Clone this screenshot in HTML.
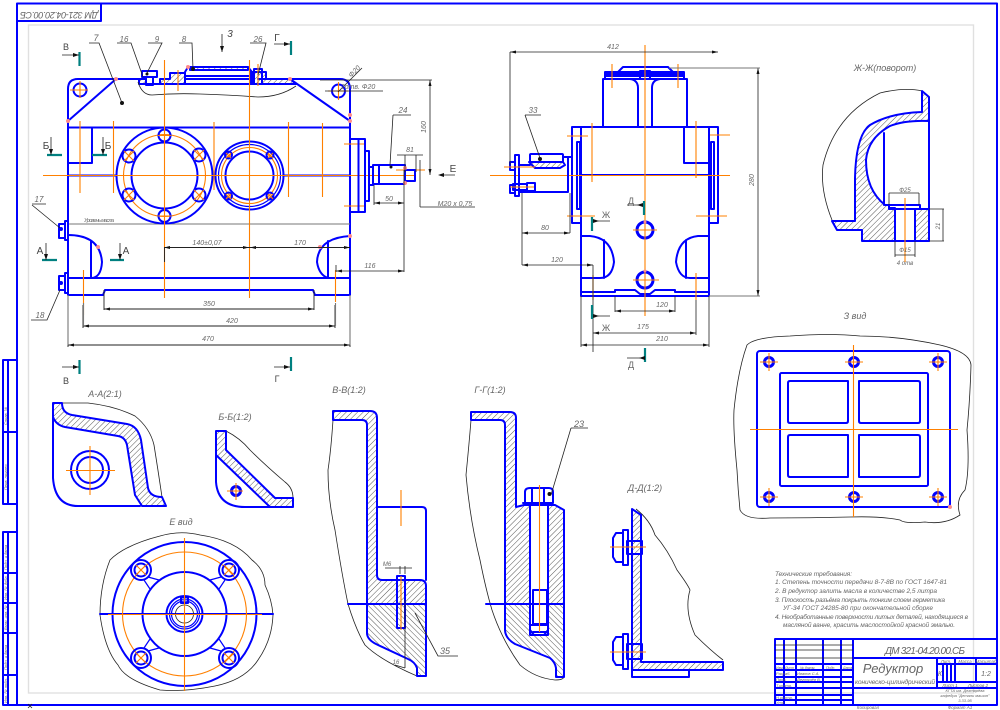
<!DOCTYPE html>
<html lang="ru"><head><meta charset="utf-8"><title>Редуктор</title>
<style>
html,body{margin:0;padding:0;background:#fff;width:1000px;height:710px;overflow:hidden}
svg{display:block}
text{font-family:"Liberation Sans",sans-serif;font-style:italic;fill:#666;font-size:8px}
.b{fill:none;stroke:#0000ff;stroke-width:2;stroke-linejoin:round;stroke-linecap:round}
.bt{fill:none;stroke:#0000ff;stroke-width:1.2}
.bk{fill:none;stroke:#0000ff;stroke-width:3}
.o{fill:none;stroke:#ff8000;stroke-width:1.1}
.k{fill:none;stroke:#222;stroke-width:.8}
.g{fill:none;stroke:#777;stroke-width:1.1}
.t{stroke:#008080;stroke-width:2.2;fill:none}
.h{fill:url(#hatch);stroke:#0000ff;stroke-width:2;stroke-linejoin:round}
.a{fill:#111}
.p{fill:#ff8c8c}
.c{text-anchor:middle}
</style></head><body>
<svg xmlns="http://www.w3.org/2000/svg" width="1000" height="710" viewBox="0 0 1000 710">
<defs>
<pattern id="hatch" patternUnits="userSpaceOnUse" width="4" height="4" patternTransform="rotate(45)"><rect width="4" height="4" fill="#fff"/><line x1="0" y1="0" x2="0" y2="4" stroke="#444" stroke-width=".9"/></pattern>
<pattern id="hatch2" patternUnits="userSpaceOnUse" width="4" height="4" patternTransform="rotate(-45)"><rect width="4" height="4" fill="#fff"/><line x1="0" y1="0" x2="0" y2="4" stroke="#444" stroke-width=".9"/></pattern>
</defs>
<rect width="1000" height="710" fill="#fff"/>

<!-- frames -->
<rect x="28.5" y="25" width="945" height="668" fill="none" stroke="#e0e0e0" stroke-width="1.4"/>
<path class="b" d="M17 3.5H997V705H17Z"/>
<path class="b" d="M17 21H101V3.5"/>
<text transform="translate(59,12) rotate(180)" class="c" style="font-size:9px" textLength="78">ДМ 321-04.20.00.СБ</text>
<path class="b" d="M17 360H3V504H17M8 360V504M3 432H17M17 532H3V705H17M8 532V705M3 573H17M3 603H17M3 633H17M3 675H17"/>
<g><text transform="translate(7,490) rotate(-90)" style="font-size:4px">Перв. примен.</text><text transform="translate(7,425) rotate(-90)" style="font-size:4px">Справ. №</text><text transform="translate(7,570) rotate(-90)" style="font-size:4px">Подп. и дата</text><text transform="translate(7,600) rotate(-90)" style="font-size:4px">Инв. № дубл.</text><text transform="translate(7,630) rotate(-90)" style="font-size:4px">Взам. инв. №</text><text transform="translate(7,670) rotate(-90)" style="font-size:4px">Подп. и дата</text><text transform="translate(7,703) rotate(-90)" style="font-size:4px">Инв. № подл.</text></g>

<!-- ===== MAIN VIEW ===== -->
<g>
<path class="b" d="M140 79H78Q68 79 68 89V295H103L105 290H313L315 295H350V89Q350 79 340 79H290"/>
<path class="b" d="M68 121L116 79M290 79L350 121M68 127.5H350M68 175.5H116M283 175.5H350M68 127.5V163H92V127.5"/>
<path class="g" d="M68 224H350" stroke-width="1.4"/>
<path class="b" d="M68 278H350"/>
<!-- top cover -->
<path class="h" d="M139 79H146V84H139Z"/>
<path class="h" d="M160 79H170V73H185V84H160Z"/>
<path class="h" d="M258 79H266V72H250V84H296L290 79Z"/>
<path class="b" d="M140 84H292M185 76H250M185 79H250M185 72L188 67H248L252 72V84M185 72V84"/>
<path class="h" d="M190 67H248V70H190Z"/>
<path class="b" d="M142 71H157V77H142Z" stroke-width="2.4"/><path class="b" d="M146 77H153V85H146Z"/>
<path class="b" d="M254 69H262V84H254Z" stroke-width="2.2"/>
<path class="k" d="M138 82Q142 95 152 95Q175 93 200 94Q230 95 258 97Q280 97 296 86" stroke-width=".9"/>
<!-- holes -->
<circle class="b" cx="80" cy="90" r="6.5"/><circle class="b" cx="338.5" cy="91" r="6.5"/>
<path class="o" d="M70 90H88M80 81V98M328 91H348M338.5 82V100"/>
<!-- left bosses -->
<path class="b" d="M59 224H65V238H59ZM65 221H68V240H65Z"/><path class="b" d="M59 276H65V290H59ZM65 273H68V293H65Z"/>
<circle cx="61" cy="229" r="2" fill="#0000ff"/><circle cx="61" cy="283" r="2" fill="#0000ff"/>
<!-- pockets -->
<path class="b" d="M68 235Q100 235 102 262Q101 278 91 278M91 241V278"/>
<path class="b" d="M350 236Q318 238 317 262Q319 275 328 278M328 241V278"/>
<!-- big circles -->
<circle class="b" cx="164.5" cy="175.5" r="48" fill="#fff"/><circle class="b" cx="164.5" cy="175.5" r="33"/><circle class="o" cx="164.5" cy="175.5" r="41"/>
<circle class="b" cx="249.5" cy="175.5" r="34" fill="#fff"/><circle class="bt" cx="249.5" cy="175.5" r="31"/><circle class="b" cx="249.5" cy="175.5" r="24"/><circle class="o" cx="249.5" cy="175.5" r="28"/>
<g class="b" fill="#fff"><circle cx="164.5" cy="135.5" r="6"/><circle cx="164.5" cy="216" r="6"/><circle cx="129" cy="156" r="6.5"/><circle cx="199" cy="155" r="6.5"/><circle cx="129" cy="195" r="6.5"/><circle cx="199" cy="195" r="6.5"/>
<circle cx="228.5" cy="155" r="3.5"/><circle cx="270" cy="155" r="3.5"/><circle cx="228.5" cy="196" r="3.5"/><circle cx="270" cy="196" r="3.5"/></g>
<path class="o" d="M124 151L134 161M134 151L124 161M194 150L204 160M204 150L194 160M124 190L134 200M134 190L124 200M194 190L204 200M204 190L194 200M226 153L231 158M231 153L226 158M268 153L273 158M273 153L268 158M226 194L231 199M231 194L226 199M268 194L273 199M273 194L268 199M158 135.5H171M158 216H171"/>
<!-- center lines -->
<path class="o" d="M43 175.5H415M164.5 60V298M249.5 60V298M80 121V193M113.5 121V193M214 122V190M288.5 122V197M322.5 123V197M83.5 270V315M335.5 270V302M178 70V91M258 64V86M344 144H365M344 206H365M396 170H425"/>
<!-- right shaft -->
<path class="b" d="M350 139H365V212H350M358.5 139V212M365 151H369V201H365M369 167H373V185H369M373 165H405V184H373ZM405 170H415V181H405ZM379 165V184"/>
<circle class="p" cx="350" cy="115" r="2"/><circle class="p" cx="350" cy="121" r="2"/><circle class="p" cx="116" cy="79" r="2"/><circle class="p" cx="290" cy="79" r="2"/><circle class="p" cx="68" cy="121" r="2"/><circle class="p" cx="350" cy="236" r="2"/><circle class="p" cx="98" cy="247" r="2"/><circle class="p" cx="320" cy="247" r="2"/><circle class="p" cx="405" cy="168" r="2"/><circle class="p" cx="405" cy="183" r="2"/><circle class="p" cx="188" cy="67" r="2"/>
<!-- leaders + dims -->
<g class="k">
<path d="M89 43H99L122 103M117 43H131L143 77M148 43H162L146 75M179 43H192L193 69M250 43H266L258 75M362 68L338 92M325 91H383"/>
<path d="M320 80H432M430 80V175M32 204H46M32 205L60 228M31 320H47L60 290M393 115H411M393 115L390 165"/>
<path d="M397 155H423M405 155V172M416 155V172M374 185V205M374 203H404M404 170V272M420 207H475M420 207V160M336 271H404M336 265V272"/>
<path d="M164.5 247.5H249.5M249.5 247.5H350M164.5 247V262M104 290V310M314 290V310M104 309H314M83 305V328M335 305V328M83 326H335M68 295V347M350 295V347M68 345H350" stroke-width=".9"/>
</g>
<path class="g" d="M68 295V345M350 295V345M83.5 303V326M335.5 303V326"/>
<g class="a"><circle cx="122" cy="103" r="2"/><circle cx="193" cy="69" r="2"/><circle cx="147" cy="74" r="1.5"/><circle cx="391" cy="167" r="1.5"/>
<path d="M164 247.5l6-1.5v3zM249 247.5l-6-1.5v3zM250 247.5l6-1.5v3zM350 247.5l-6-1.5v3zM336 271l6-1.5v3zM404 271l-6-1.5v3zM374 203l6-1.5v3zM404 203l-6-1.5v3zM104 309l6-1.5v3zM314 309l-6-1.5v3zM83 326l6-1.5v3zM335 326l-6-1.5v3zM68 345l6-1.5v3zM350 345l-6-1.5v3zM430 80l-1.5 6h3zM430 175l-1.5-6h3z"/></g>
<g>
<text x="96" y="41" class="c" style="font-size:9px">7</text><text x="124" y="42" class="c" style="font-size:8px">16</text><text x="157" y="42" class="c" style="font-size:8px">9</text><text x="184" y="42" class="c" style="font-size:8px">8</text><text x="258" y="42" class="c" style="font-size:8px">26</text>
<text x="39" y="202" class="c" style="font-size:8px">17</text><text x="40" y="318" class="c" style="font-size:8px">18</text><text x="403" y="113" class="c" style="font-size:8px">24</text>
<text transform="translate(356,73) rotate(-45)" class="c" style="font-size:7px">Ф20</text><text x="358" y="89" class="c" style="font-size:7px">2отв. Ф20</text>
<text transform="translate(426,127) rotate(-90)" class="c" style="font-size:7px">160</text><text x="410" y="152" class="c" style="font-size:7px">81</text><text x="389" y="201" class="c" style="font-size:7px">50</text><text x="455" y="206" class="c" style="font-size:7px">М20 х 0,75</text><text x="370" y="268" class="c" style="font-size:7px">116</text>
<text x="207" y="245" class="c" style="font-size:7px">140±0,07</text><text x="300" y="245" class="c" style="font-size:7px">170</text><text x="209" y="306" class="c" style="font-size:7px">350</text><text x="232" y="323" class="c" style="font-size:7px">420</text><text x="208" y="341" class="c" style="font-size:7px">470</text>
<text x="84" y="222" style="font-size:5.5px" textLength="30">Уровень масла</text>
</g>
<!-- section marks -->
<path class="t" d="M79.5 52V66M291 41V55M79.5 360V374M291 357V371M47 155H62M92 155H107M42 260H57M110 260H124"/>
<path class="k" d="M62 55H79M274 44H290M222 34V52M51 137V155M103 137V155M46 243V260M120 243V260M440 175H455M274 367H290M62 367H79"/>
<g class="a"><path d="M73 53l6 2-6 2zM284 42l6 2-6 2zM220 46l2 6 2-6zM49 149l2 6 2-6zM101 149l2 6 2-6zM44 254l2 6 2-6zM118 254l2 6 2-6zM444 173l-6 2 6 2zM284 365l6 2-6 2zM73 365l6 2-6 2z"/></g>
<g><text x="66" y="50" class="c" style="font-size:9px;font-style:normal;fill:#444">В</text><text x="277" y="41" class="c" style="font-size:10px;font-style:normal;fill:#444">Г</text><text x="230" y="37" class="c" style="font-size:10px;fill:#444">3</text><text x="46" y="149" class="c" style="font-size:10px;font-style:normal;fill:#444">Б</text><text x="108" y="149" class="c" style="font-size:10px;font-style:normal;fill:#444">Б</text><text x="40" y="254" class="c" style="font-size:10px;font-style:normal;fill:#444">А</text><text x="126" y="254" class="c" style="font-size:10px;font-style:normal;fill:#444">А</text><text x="453" y="172" class="c" style="font-size:10px;font-style:normal;fill:#444">Е</text><text x="66" y="384" class="c" style="font-size:9px;font-style:normal;fill:#444">В</text><text x="277" y="382" class="c" style="font-size:9px;font-style:normal;fill:#444">Г</text></g>
</g>

<!-- ===== SIDE VIEW ===== -->
<g>
<path class="b" d="M572 127H718V223H709V296H581V223H572Z"/>
<path class="b" d="M581 127V223M709 127V223M580 175H709M684 127V163H709"/>
<rect x="577" y="142" width="3" height="67" class="b"/><rect x="711" y="142" width="3" height="67" class="b"/>
<path class="b" d="M603 127V79H687V127M605 72H684V79H605Z"/>
<path d="M606 73H683V77H606Z" fill="#0000ff"/>
<path class="b" d="M618 72L623 67H668L673 72M638 127V88Q638 80 630 79M652 127V88Q652 80 660 79"/>
<rect x="640" y="71" width="10" height="8" class="b" fill="#fff"/>
<path class="b" d="M581 236H590Q612 238 614 262Q612 278 600 278H581M604 240V278M709 236H698Q678 238 676 262Q679 278 690 278H709M686 240V278"/>
<path class="b" d="M581 292H615V290H635L640 294H650L655 290H675V292H709"/>
<circle cx="645" cy="230" r="8" class="bk"/><circle cx="645" cy="280" r="8" class="bk"/>
<path class="o" d="M490 175.5H730M645 45V316M612 88V64M678 88V64M592 123V182M696 121V178M567 136H588M567 216H595M710 135H730M696 216H727M633 230H657M633 280H659M593 275V300M696 273V300"/>
<circle class="p" cx="645" cy="222" r="1.5"/><circle class="p" cx="645" cy="271" r="1.5"/>
<!-- left shaft -->
<path class="h" d="M529 162H563L565 165L560 168H535Z"/>
<rect x="530" y="154" width="33" height="8" class="b" rx="1"/>
<path class="b" d="M515 155H519V196H515ZM510 162H515V170H510ZM510 185H515V193H510ZM519 192H568V157H572M568 157H563M519 165H530"/>
<rect x="513" y="184" width="14" height="6" class="b" fill="#fff"/><path class="b" d="M527 183H535V191H527Z"/>
<path class="o" d="M504 167H535M510 187H534"/>
<path class="k" d="M510 52H718M510 52V165M525 115H541M525 115L540 158M522 193V265M570 193V233M522 233H570M522 265H593M593 265V352M615 296V312M675 296V312M615 311H675M593 333H696M696 300V335M581 296V347M709 296V347M581 345H709M669 68H758M758 68V296M709 296H760"/>
<path class="g" d="M669 68H760M709 296H760" stroke-width="1.2"/>
<circle cx="540" cy="159" r="2" fill="#111"/>
<g class="a"><path d="M510 52l6-1.5v3zM718 52l-6-1.5v3zM522 233l6-1.5v3zM570 233l-6-1.5v3zM522 265l6-1.5v3zM593 265l-6-1.5v3zM615 311l6-1.5v3zM675 311l-6-1.5v3zM593 333l6-1.5v3zM696 333l-6-1.5v3zM581 345l6-1.5v3zM709 345l-6-1.5v3zM758 68l-1.5 6h3zM758 296l-1.5-6h3z"/></g>
<text x="613" y="49" class="c" style="font-size:7px">412</text><text x="533" y="113" class="c" style="font-size:8px">33</text><text x="545" y="230" class="c" style="font-size:7px">80</text><text x="557" y="262" class="c" style="font-size:7px">120</text><text x="662" y="307" class="c" style="font-size:7px">120</text><text x="643" y="329" class="c" style="font-size:7px">175</text><text x="662" y="341" class="c" style="font-size:7px">210</text><text transform="translate(754,180) rotate(-90)" class="c" style="font-size:7px">280</text>
<path class="t" d="M592 217V231M592 305V319M644 201V215M645 348V362"/>
<path class="k" d="M593 221H610M593 316H610M627 205H643M627 358H645"/>
<g class="a"><path d="M593 219l6 2-6 2zM593 314l6 2-6 2zM643 203l-6 2 6 2zM645 356l-6 2 6 2z"/></g>
<text x="606" y="218" class="c" style="font-size:9px;font-style:normal">Ж</text><text x="606" y="331" class="c" style="font-size:9px;font-style:normal">Ж</text><text x="631" y="204" class="c" style="font-size:9px;font-style:normal">Д</text><text x="631" y="368" class="c" style="font-size:9px;font-style:normal">Д</text>
</g>

<!-- ===== Ж-Ж ===== -->
<g>
<text x="885" y="71" class="c" style="font-size:9px">Ж-Ж(поворот)</text>
<path class="k" d="M832 220Q820 190 823 165Q835 115 880 93Q905 87 922 91" stroke-width=".9"/>
<path class="h" d="M922 91L929 97V121Q905 120 890 126Q868 138 866 160Q866 190 885 205H889V208H895V241H862V230H837L832 221H855L855 178Q856 135 870 125Q890 113 922 112Z"/>
<path class="b" d="M884 133V205M929 121V241M889 205H920V209H889ZM895 209V241H915V209"/>
<path class="h" d="M915 209H929V241H915Z"/>
<rect x="895" y="209" width="20" height="32" fill="#fff" class="b"/>
<path class="o" d="M905 198V262"/>
<path class="k" d="M889 193H919M889 193V205M919 193V205M895 241V257M915 241V257M895 255H915M929 209H944M929 241H944M943 209V241"/>
<text x="905" y="192" class="c" style="font-size:6px">Ф25</text><text x="905" y="252" class="c" style="font-size:6px">Ф15</text><text x="905" y="265" class="c" style="font-size:6px">4 отв</text><text transform="translate(940,226) rotate(-90)" class="c" style="font-size:6px">21</text>
</g>

<!-- ===== З view ===== -->
<g>
<text x="855" y="319" class="c" style="font-size:9px">З вид</text>
<path class="k" d="M747 345Q755 337 790 336Q830 333 860 336Q900 336 940 345Q970 352 971 365Q970 400 967 430Q970 470 965 490Q955 500 960 515Q945 525 925 522Q905 524 900 520Q880 516 850 517Q810 518 770 518Q745 520 740 510Q738 490 737 470Q733 430 734 410Q738 370 747 345Z" stroke-width=".9"/>
<rect x="757" y="351" width="193" height="156" rx="3" class="b"/>
<rect x="780" y="373" width="148" height="113" rx="1.5" class="b"/>
<g class="b"><path d="M848 381H790Q788 381 788 383V421Q788 423 790 423H846Q848 423 848 421ZM859 381H918Q920 381 920 383V421Q920 423 918 423H861Q859 423 859 421ZM848 435H790Q788 435 788 437V475Q788 477 790 477H848ZM859 435H918Q920 435 920 437V475Q920 477 918 477H859Z"/></g>
<g><circle cx="769" cy="362" r="4.5" class="bk" stroke-width="3.2"/><circle cx="854" cy="362" r="4.5" class="bk" stroke-width="3.2"/><circle cx="938" cy="362" r="4.5" class="bk" stroke-width="3.2"/><circle cx="769" cy="497" r="4.5" class="bk" stroke-width="3.2"/><circle cx="854" cy="497" r="4.5" class="bk" stroke-width="3.2"/><circle cx="938" cy="497" r="4.5" class="bk" stroke-width="3.2"/></g>
<path class="o" d="M750 429.5H958M853.5 345V517M760 362H778M769 353V371M845 362H863M929 362H947M938 353V371M760 497H778M769 488V506M845 497H863M929 497H947M938 488V506"/>
<circle class="p" cx="950" cy="507" r="2"/>
</g>

<!-- ===== А-А ===== -->
<g>
<text x="105" y="397" class="c" style="font-size:9px">А-А(2:1)</text>
<path class="k" d="M62 403H88Q115 406 135 416Q150 428 154 445Q158 470 162 497" stroke-width=".9"/>
<path class="b" d="M53 417V478Q55 506 78 506H140"/>
<path class="h" d="M53 403H62Q62 413 72 415L127 424Q138 426 141 440L148 488Q150 497 162 497L166 506H142L135 495L127 445Q125 437 118 436L65 427Q56 425 53 417Z"/>
<circle class="b" cx="90" cy="470" r="19"/><circle class="b" cx="90" cy="470" r="13"/>
<path class="o" d="M66 470.5H115M90 446V495"/>
</g>
<!-- ===== Б-Б ===== -->
<g>
<text x="235" y="420" class="c" style="font-size:9px">Б-Б(1:2)</text>
<path class="k" d="M226 431Q240 438 250 450Q265 465 285 482Q293 488 293 498" stroke-width=".9"/>
<path class="b" d="M216 455V482Q218 507 245 507H272"/>
<path class="h" d="M216 431H226V450L275 498H293V507H270L216 455Z"/>
<circle cx="236" cy="491" r="4.5" class="bk" stroke-width="2"/>
<path class="o" d="M227 491H243M236 483V500"/>
</g>
<!-- ===== Е ===== -->
<g>
<text x="181" y="525" class="c" style="font-size:9px">Е вид</text>
<path class="k" d="M110 560Q125 545 160 536Q180 530 200 535Q235 540 252 560Q265 570 265 585Q272 600 273 615Q272 640 258 660Q245 680 215 686Q185 692 160 690Q125 680 118 665Q105 650 100 615Q100 585 110 560Z" stroke-width=".9"/>
<path class="b" d="M100 614H273"/>
<circle class="b" cx="184.5" cy="614" r="72"/><circle class="o" cx="184.5" cy="614" r="62"/><circle class="b" cx="184.5" cy="614" r="42" fill="#fff"/>
<path class="bt" d="M148 577L159 580M144 580L150 589M221 577L210 580M225 580L219 589M148 651L159 648M144 648L150 639M221 651L210 648M225 648L219 639"/>
<g class="b" fill="#fff"><circle cx="141" cy="570" r="10"/><circle cx="229" cy="570" r="10"/><circle cx="141" cy="658" r="10"/><circle cx="229" cy="658" r="10"/><circle cx="141" cy="570" r="6.5"/><circle cx="229" cy="570" r="6.5"/><circle cx="141" cy="658" r="6.5"/><circle cx="229" cy="658" r="6.5"/></g>
<path class="o" d="M136 565L146 575M146 565L136 575M224 565L234 575M234 565L224 575M136 653L146 663M146 653L136 663M224 653L234 663M234 653L224 663"/>
<circle class="b" cx="184.5" cy="614" r="18"/><circle class="bt" cx="184.5" cy="614" r="15"/><circle class="bt" cx="184.5" cy="614" r="13"/><circle class="k" cx="184.5" cy="614" r="9"/>
<rect x="181" y="597" width="7" height="6" class="b" fill="#fff"/>
<path class="o" d="M108 614.5H262M184.5 538V691"/>
</g>

<!-- ===== В-В ===== -->
<g>
<text x="349" y="393" class="c" style="font-size:9px">В-В(1:2)</text>
<path class="k" d="M333 420Q331 450 328 470Q328 500 335 530Q342 575 348 604Q356 630 365 645Q380 660 417 676" stroke-width=".9"/>
<path class="h" d="M333 411H370Q377 411 377 418V575Q377 580 382 580H420Q426 580 426 586V604H367V425Q367 420 362 420H333Z"/>
<path class="h" d="M367 604H426V676H417V668Q415 662 408 659L378 645Q367 640 367 633Z" style="fill:url(#hatch2)"/>
<path class="b" d="M348 604H426M377 507H422Q426 507 426 511V580"/>
<rect x="397" y="576" width="8" height="52" class="b" stroke-width="2.2" fill="#fff"/>
<path class="o" d="M401 490V526M401 576V630"/>
<path class="k" d="M385 568H412M400 566V574M405 566V574M405 600V668M415 613L438 656H458M395 665L405 668"/>
<text x="387" y="566" class="c" style="font-size:6px">М6</text><text x="445" y="654" class="c" style="font-size:9px">35</text><text x="396" y="664" class="c" style="font-size:6px">16</text>
</g>
<!-- ===== Г-Г ===== -->
<g>
<text x="490" y="393" class="c" style="font-size:9px">Г-Г(1:2)</text>
<path class="k" d="M471 420Q469 445 466 475Q470 520 480 560Q486 590 492 610Q502 640 520 665Q535 678 555 680Q563 680 564 677" stroke-width=".9"/>
<path class="h" d="M471 412H510Q516 412 516 418V507L524 505H530V604H505V425Q505 420 500 420H471Z"/>
<path class="h" d="M548 505H555L564 510V604H548Z"/>
<path class="h" d="M505 604H530V630L534 635H544L548 630V604H564V677H556V668Q555 662 550 658L515 644Q505 638 505 630Z" style="fill:url(#hatch2)"/>
<path class="b" d="M486 604H564"/>
<rect x="530" y="505" width="18" height="130" class="b" stroke-width="2.4" fill="#fff"/>
<path class="b" d="M533 590H547V624H533ZM531 625H548M533 632H547"/>
<path class="b" d="M525 503V492Q525 488 530 488H549Q553 488 553 492V503H523"/>
<path class="b" d="M532 488V503M544 488V503"/>
<path class="o" d="M539.5 485V632"/>
<path class="k" d="M571 428H588M571 428L551 495"/>
<circle cx="549.5" cy="494" r="2" fill="#111"/>
<text x="579" y="427" class="c" style="font-size:9px">23</text>
</g>
<!-- ===== Д-Д ===== -->
<g>
<text x="645" y="491" class="c" style="font-size:9px">Д-Д(1:2)</text>
<path class="k" d="M636 509Q650 520 655 535Q668 550 677 570Q688 585 690 590Q684 610 695 635Q710 650 723 660" stroke-width=".9"/>
<path class="h" d="M632 509L641 515V662H723V670H632Z"/>
<rect x="632" y="670" width="57" height="7" class="b"/>
<g class="b" fill="#fff" stroke-width="2.2"><path d="M616 533H623V562H616L613 557V538Z"/><rect x="623" y="530" width="5" height="35"/><rect x="627" y="541" width="15" height="13"/>
<path d="M616 637H623V665H616L613 660V642Z"/><rect x="623" y="634" width="5" height="35"/><rect x="627" y="644" width="15" height="15"/></g>
<path class="o" d="M610 547H646M610 652H646"/>
</g>

<!-- ===== TECH TEXT ===== -->
<g>
<text x="775" y="576" style="font-size:6.5px" textLength="77">Технические требования:</text>
<text x="775" y="584" style="font-size:6.5px" textLength="172">1. Степень точности передачи 8-7-8В по ГОСТ 1647-81</text>
<text x="775" y="593" style="font-size:6.5px" textLength="162">2. В редуктор залить масла в количестве 2,5 литра</text>
<text x="775" y="602" style="font-size:6.5px" textLength="170">3. Плоскость разъёма покрыть тонким слоем герметика</text>
<text x="783" y="610" style="font-size:6.5px" textLength="150">УГ-34 ГОСТ 24285-80 при окончательной сборке</text>
<text x="775" y="619" style="font-size:6.5px" textLength="193">4. Необработанные поверхности литых деталей, находящиеся в</text>
<text x="783" y="627" style="font-size:6.5px" textLength="172">масляной ванне, красить маслостойкой красной эмалью.</text>
</g>

<!-- ===== TITLE BLOCK ===== -->
<g>
<path class="b" d="M775 639H997M775 639V705M784 639V705M796 639V705M823 639V705M841 639V705M853 639V705M853 658H997M853 688H997M937 658V688M955 658V682M976 658V682M937 682H997M937 664H997M943 664V682M947 664V682M951 664V682"/>
<path class="k" d="M775 645H853M775 650H853M775 658H853"/>
<path class="b" d="M775 664H853M775 670H853M775 677H853M775 682H853M775 688H853M775 695H853M775 700H853" stroke-width="1.1"/>
<text x="925" y="654" class="c" style="font-size:10px" textLength="80">ДМ 321-04.20.00.СБ</text>
<text x="893" y="673" class="c" style="font-size:13px">Редуктор</text>
<text x="895" y="684" class="c" style="font-size:6.5px" textLength="80">коническо-цилиндрический</text>
<text x="946" y="663" class="c" style="font-size:4.5px">Лит.</text><text x="965" y="663" class="c" style="font-size:4.5px">Масса</text><text x="986" y="663" class="c" style="font-size:4.5px">Масштаб</text>
<text x="940" y="676" class="c" style="font-size:7px">К</text><text x="986" y="676" class="c" style="font-size:7px">1:2</text>
<text x="950" y="687" class="c" style="font-size:4.5px">Лист  1</text><text x="978" y="687" class="c" style="font-size:4.5px">Листов  2</text>
<text x="965" y="692" class="c" style="font-size:4px">КГТА им. Дегтярёва</text><text x="965" y="697" class="c" style="font-size:4px">кафедра "Детали машин"</text><text x="965" y="702" class="c" style="font-size:4px">3.33-95</text>
<g><text x="776" y="669" style="font-size:3.5px">Изм.</text><text x="785" y="669" style="font-size:3.5px">Лист</text><text x="800" y="669" style="font-size:3.5px">№ докум.</text><text x="826" y="669" style="font-size:3.5px">Подп.</text><text x="843" y="669" style="font-size:3.5px">Дата</text>
<text x="776" y="675" style="font-size:4px">Разраб.</text><text x="776" y="681" style="font-size:4px">Пров.</text><text x="776" y="687" style="font-size:4px">Т.контр.</text><text x="776" y="699" style="font-size:4px">Н.контр.</text><text x="776" y="704" style="font-size:4px">Утв.</text><text x="797" y="675" style="font-size:4px">Иванов С.А.</text><text x="797" y="681" style="font-size:4px">Дегтярёв В.</text></g>
<text x="868" y="709" class="c" style="font-size:4.5px">Копировал</text><text x="960" y="709" class="c" style="font-size:4.5px">Формат  А1</text>
<path class="k" d="M28 708L32 704M32 708L28 704"/>
</g>
</svg>
</body></html>
